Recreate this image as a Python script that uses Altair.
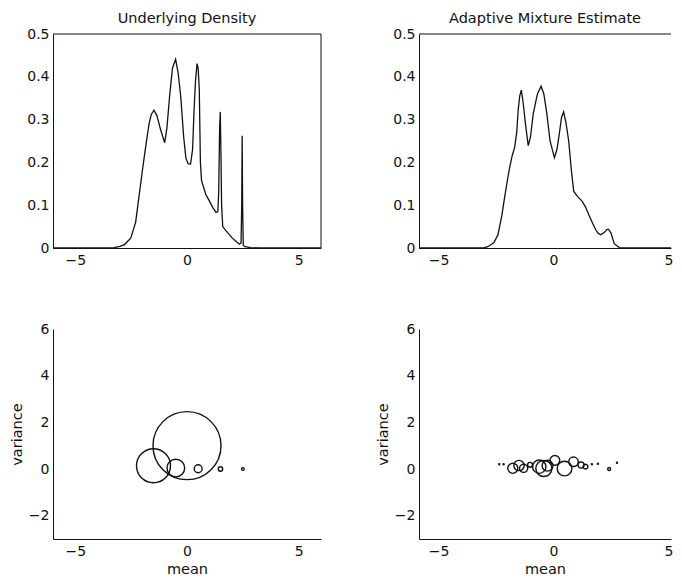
import altair as alt
import pandas as pd

# ---------------- data ----------------
# Underlying density curve (top-left)
true_x = [-6.0, -3.5, -3.27, -3.0, -2.8, -2.52, -2.3, -2.15, -2.0, -1.85, -1.7, -1.6,
          -1.48, -1.35, -1.18, -1.0, -0.9, -0.78, -0.65, -0.51, -0.4, -0.28, -0.15,
          -0.05, 0.05, 0.16, 0.25, 0.31, 0.38, 0.45, 0.5, 0.55, 0.6, 0.65, 0.84, 1.0,
          1.15, 1.3, 1.38, 1.42, 1.46, 1.49, 1.52, 1.55, 1.6, 1.75, 2.03, 2.2, 2.35,
          2.42, 2.45, 2.47, 2.49, 2.52, 2.6, 2.85, 3.2, 6.0]
true_y = [0.0, 0.0, 0.001, 0.004, 0.008, 0.023, 0.06, 0.12, 0.18, 0.237, 0.29, 0.312,
          0.322, 0.31, 0.276, 0.246, 0.28, 0.354, 0.42, 0.441, 0.41, 0.354, 0.26,
          0.21, 0.197, 0.196, 0.23, 0.315, 0.39, 0.431, 0.42, 0.37, 0.2, 0.158, 0.125, 0.11,
          0.095, 0.083, 0.085, 0.13, 0.28, 0.318, 0.22, 0.1, 0.05, 0.04, 0.023, 0.015, 0.009,
          0.012, 0.1, 0.262, 0.1, 0.006, 0.003, 0.001, 0.0, 0.0]

# Adaptive mixture estimate curve (top-right)
est_x = [-5.85, -3.5, -3.0, -2.86, -2.6, -2.42, -2.25, -2.13, -2.0, -1.91, -1.8, -1.69,
         -1.6, -1.54, -1.47, -1.4, -1.32, -1.22, -1.1, -1.0, -0.88, -0.7, -0.54, -0.42,
         -0.29, -0.15, 0.04, 0.15, 0.25, 0.35, 0.44, 0.55, 0.66, 0.78, 0.88, 1.05, 1.25,
         1.4, 1.54, 1.7, 1.84, 1.95, 2.06, 2.2, 2.32, 2.39, 2.5, 2.64, 2.86, 3.1, 5.11]
est_y = [0.0, 0.0, 0.001, 0.003, 0.012, 0.03, 0.075, 0.117, 0.16, 0.187, 0.215, 0.235,
         0.27, 0.32, 0.355, 0.369, 0.34, 0.29, 0.239, 0.26, 0.314, 0.36, 0.378, 0.36,
         0.314, 0.25, 0.211, 0.23, 0.266, 0.305, 0.318, 0.29, 0.25, 0.18, 0.132, 0.12, 0.109,
         0.095, 0.077, 0.058, 0.042, 0.034, 0.031, 0.036, 0.043, 0.044, 0.035, 0.01, 0.001, 0.0, 0.0]

# Components of the underlying density (bottom-left)
true_mean = [0.0, -1.5, -0.5, 0.5, 1.5, 2.5]
true_var = [1.0, 0.14, 0.04, 0.01, 0.0, 0.0]
true_weight = [0.5, 0.25, 0.13, 0.058, 0.032, 0.02]

# Components of the adaptive mixture estimate (bottom-right)
est_mean = [-2.36, -2.17, -1.77, -1.5, -1.3, -1.02, -0.62, -0.42, -0.26, 0.06, 0.48,
            0.87, 1.2, 1.39, 1.67, 1.93, 2.42, 2.76]
est_var = [0.2, 0.2, 0.03, 0.15, 0.03, 0.18, 0.1, 0.02, 0.14, 0.37, 0.02,
           0.31, 0.17, 0.1, 0.2, 0.22, 0.0, 0.27]
est_weight = [0.008, 0.008, 0.074, 0.076, 0.06, 0.036, 0.098, 0.118, 0.08, 0.072, 0.108,
              0.07, 0.045, 0.035, 0.008, 0.008, 0.022, 0.008]

x_ticks = [-5, 0, 5]
dens_ticks = [0, 0.1, 0.2, 0.3, 0.4, 0.5]
var_ticks = [-2, 0, 2, 4, 6]

# ---------------- styling ----------------
FONT = "DejaVu Sans"
INK = "#111111"
LW = 268
RW = 252
TH = 214
BH = 210
LDOM = [-6, 6]
RDOM = [-5.85, 5.11]

true_df = pd.DataFrame({"x": true_x, "y": true_y})
est_df = pd.DataFrame({"x": est_x, "y": est_y})
true_comp = pd.DataFrame({"mean": true_mean, "variance": true_var, "weight": true_weight})
est_comp = pd.DataFrame({"mean": est_mean, "variance": est_var, "weight": est_weight})

dens_label = "datum.value == 0 ? '0' : format(datum.value, '.1f')"


def title(text):
    return alt.TitleParams(text, fontSize=14.5, font=FONT, fontWeight="normal",
                           color=INK, offset=1)


def density_panel(df, ttl, domain, width, right_border):
    line = alt.Chart(df).mark_line(color=INK, strokeWidth=1.3).encode(
        x=alt.X("x:Q", scale=alt.Scale(domain=domain, nice=False, zero=False),
                axis=alt.Axis(values=x_ticks, title=None)),
        y=alt.Y("y:Q", scale=alt.Scale(domain=[0, 0.5], nice=False),
                axis=alt.Axis(values=dens_ticks, labelExpr=dens_label, title=None)),
    )
    top = alt.Chart(pd.DataFrame({"v": [0.5]})).mark_rule(color=INK, strokeWidth=1).encode(
        y="v:Q")
    layers = [line, top]
    if right_border:
        side = alt.Chart(pd.DataFrame({"u": [domain[1]]})).mark_rule(color=INK, strokeWidth=1).encode(
            x="u:Q")
        layers.append(side)
    return alt.layer(*layers).properties(width=width, height=TH, title=title(ttl))


def comp_panel(df, domain, width):
    return alt.Chart(df).mark_point(shape="circle", filled=False, color=INK,
                                    strokeWidth=1.4, opacity=1).encode(
        x=alt.X("mean:Q", scale=alt.Scale(domain=domain, nice=False, zero=False),
                axis=alt.Axis(values=x_ticks, title="mean")),
        y=alt.Y("variance:Q", scale=alt.Scale(domain=[-3, 6], nice=False, zero=False),
                axis=alt.Axis(values=var_ticks, title="variance")),
        size=alt.Size("weight:Q", scale=alt.Scale(type="pow", exponent=2, domain=[0, 0.5],
                                                   range=[0, 4624]), legend=None),
    ).properties(width=width, height=BH)


tl = density_panel(true_df, "Underlying Density", LDOM, LW, True)
tr = density_panel(est_df, "Adaptive Mixture Estimate", RDOM, RW, False)
bl = comp_panel(true_comp, LDOM, LW)
br = comp_panel(est_comp, RDOM, RW)

chart = alt.concat(tl, tr, bl, br, columns=2, spacing={"row": 81, "column": 98},
                   bounds="flush").properties(
    padding={"left": 1, "top": 2, "right": 0, "bottom": 0},
    background="white",
).configure_view(strokeWidth=0).configure_axis(
    grid=False, ticks=False, domainColor=INK, domainWidth=1,
    labelFont=FONT, labelFontSize=14, labelColor=INK, labelPadding=5,
    titleFont=FONT, titleFontSize=14.5, titleFontWeight="normal", titleColor=INK,
    titlePadding=4,
).configure_axisY(labelPadding=4)

chart.save("out.html", embed_options={"renderer": "svg", "actions": False})
